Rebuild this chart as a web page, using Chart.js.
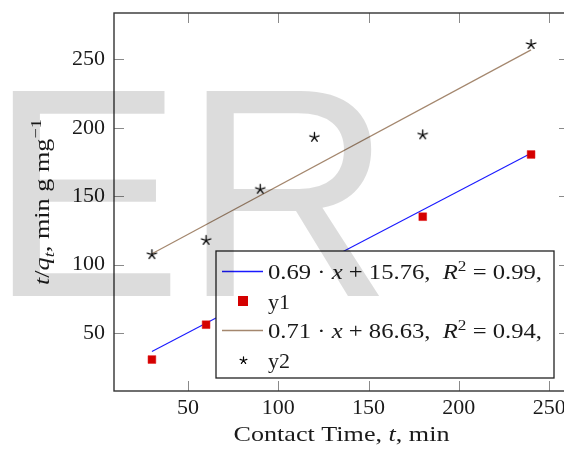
<!DOCTYPE html>
<html>
<head>
<meta charset="utf-8">
<script src="https://cdn.jsdelivr.net/npm/chart.js@4.4.1/dist/chart.umd.min.js"></script>
<style>
  html, body { margin: 0; padding: 0; overflow: hidden; background: #fff; }
  #wrap { width: 580px; height: 449px; }
</style>
</head>
<body>
<div id="wrap"><canvas id="chart" width="580" height="449"></canvas></div>
<script>
// data
const contactTime = [30, 60, 90, 120, 180, 240];
const y1Values = [30.5, 56, 85, 105, 135, 180.5];
const y2Values = [107.3, 117.7, 155.1, 193.1, 194.9, 261];
const fit1 = { slope: 0.69, intercept: 15.76 };
const fit2 = { slope: 0.71, intercept: 86.63 };
const fitRange = [30, 240];
const xTicks = [50, 100, 150, 200, 250];
const yTicks = [50, 100, 150, 200, 250];
const xLimits = [9, 261];
const yLimits = [7.5, 284];

const SERIF = '"Liberation Serif", "DejaVu Serif", serif';
const FS = 22;
const BLUE = '#1a1aff';
const RED = '#d40000';
const BROWN = '#a4876e';

function points(xs, ys) {
  return xs.map((x, i) => ({ x: x, y: ys[i] }));
}
function fitLine(f) {
  return fitRange.map(x => ({ x: x, y: f.slope * x + f.intercept }));
}

// pgfplots-like 5 ray star
function makeStar(r, lw) {
  const c = document.createElement('canvas');
  const s = Math.ceil(r * 2 + 3);
  c.width = s; c.height = s;
  const g = c.getContext('2d');
  g.strokeStyle = '#000';
  g.lineWidth = lw;
  g.lineCap = 'round';
  g.beginPath();
  for (let k = 0; k < 5; k++) {
    const a = -Math.PI / 2 + k * 2 * Math.PI / 5;
    g.moveTo(s / 2, s / 2);
    g.lineTo(s / 2 + r * Math.cos(a), s / 2 + r * Math.sin(a));
  }
  g.stroke();
  return c;
}
const starBig = makeStar(4.8, 1.3);
const starSmall = makeStar(3.6, 1.2);

function segWidth(ctx, segs, size) {
  let w = 0;
  segs.forEach(s => {
    const fs = s.sup || s.sub ? size * 0.7 : size;
    ctx.font = (s.i ? 'italic ' : '') + fs + 'px ' + SERIF;
    w += ctx.measureText(s.t).width;
  });
  return w;
}
// draws a run of segments, stretched horizontally to a given width if asked
function richText(ctx, x, y, segs, size, width) {
  const natural = segWidth(ctx, segs, size);
  const sx = width ? width / natural : 1;
  ctx.save();
  ctx.translate(x, y);
  ctx.scale(sx, 1);
  let cx = 0;
  segs.forEach(s => {
    const fs = s.sup || s.sub ? size * 0.7 : size;
    ctx.font = (s.i ? 'italic ' : '') + fs + 'px ' + SERIF;
    const dy = s.sup ? -size * 0.38 : (s.sub ? size * 0.22 : 0);
    ctx.fillText(s.t, cx, dy);
    cx += ctx.measureText(s.t).width;
  });
  ctx.restore();
  return natural * sx;
}

const legendRows = [
  { kind: 'line', color: BLUE, width: 274, text: [{ t: '0.69 · ' }, { t: 'x', i: 1 }, { t: ' + 15.76,  ' }, { t: 'R', i: 1 }, { t: '2', sup: 1 }, { t: ' = 0.99,' }] },
  { kind: 'rect', color: RED, width: 22, text: [{ t: 'y1' }] },
  { kind: 'line', color: BROWN, width: 274, text: [{ t: '0.71 · ' }, { t: 'x', i: 1 }, { t: ' + 86.63,  ' }, { t: 'R', i: 1 }, { t: '2', sup: 1 }, { t: ' = 0.94,' }] },
  { kind: 'star', width: 22, text: [{ t: 'y2' }] }
];

const framePlugin = {
  id: 'frame',
  afterDraw(chart) {
    const ctx = chart.ctx;
    const a = chart.chartArea;
    const xs = chart.scales.x, ys = chart.scales.y;
    ctx.save();
    // inward ticks on all four sides
    ctx.strokeStyle = '#8a8a8a';
    ctx.lineWidth = 1;
    ctx.beginPath();
    xTicks.forEach(v => {
      const p = Math.round(xs.getPixelForValue(v)) + 0.5;
      ctx.moveTo(p, a.bottom); ctx.lineTo(p, a.bottom - 10);
      ctx.moveTo(p, a.top); ctx.lineTo(p, a.top + 10);
    });
    yTicks.forEach(v => {
      const p = Math.round(ys.getPixelForValue(v)) + 0.5;
      ctx.moveTo(a.left, p); ctx.lineTo(a.left + 10, p);
      ctx.moveTo(a.right, p); ctx.lineTo(a.right - 10, p);
    });
    ctx.stroke();
    ctx.strokeStyle = '#333';
    ctx.lineWidth = 1.4;
    ctx.strokeRect(a.left, a.top, a.right - a.left, a.bottom - a.top);

    // axis titles
    ctx.fillStyle = '#1a1a1a';
    ctx.textBaseline = 'alphabetic';
    const xt = [{ t: 'Contact Time, ' }, { t: 't', i: 1 }, { t: ', min' }];
    richText(ctx, (a.left + a.right) / 2 - 108, 441, xt, FS, 216);

    const yt = [{ t: 't', i: 1 }, { t: '/' }, { t: 'q', i: 1 }, { t: 't', i: 1, sub: 1 }, { t: ', min g mg' }, { t: '−1', sup: 1 }];
    ctx.save();
    ctx.translate(49, 202);
    ctx.rotate(-Math.PI / 2);
    richText(ctx, -83, 0, yt, FS, 166);
    ctx.restore();

    // legend box
    const L = { x: 216, y: 251, w: 338, h: 127 };
    ctx.fillStyle = '#fff';
    ctx.fillRect(L.x, L.y, L.w, L.h);
    ctx.strokeStyle = '#222';
    ctx.lineWidth = 1.3;
    ctx.strokeRect(L.x, L.y, L.w, L.h);
    legendRows.forEach((r, i) => {
      const cy = Math.round(271 + i * 29.5) + 0.5;
      if (r.kind === 'line') {
        ctx.strokeStyle = r.color;
        ctx.lineWidth = 1.3;
        ctx.beginPath();
        ctx.moveTo(222, cy); ctx.lineTo(263, cy);
        ctx.stroke();
      } else if (r.kind === 'rect') {
        ctx.fillStyle = r.color;
        ctx.fillRect(238, cy - 5.5, 10, 10);
      } else {
        ctx.drawImage(starSmall, Math.round(243 - starSmall.width / 2), Math.round(cy - starSmall.height / 2));
      }
      ctx.fillStyle = '#1a1a1a';
      richText(ctx, 268, cy + 7, r.text, 21, r.width);
    });

    // watermark overlay
    ctx.fillStyle = 'rgba(0,0,0,0.137)';
    ctx.font = '298px "Liberation Sans", Arial, sans-serif';
    ctx.textBaseline = 'alphabetic';
    ctx.translate(-11, 296);
    ctx.scale(0.975, 1);
    ctx.fillText('ER', 0, 0);
    ctx.restore();
  }
};

new Chart(document.getElementById('chart').getContext('2d'), {
  type: 'scatter',
  data: {
    datasets: [
      {
        label: 'fit1',
        data: fitLine(fit1),
        showLine: true,
        borderColor: BLUE,
        borderWidth: 1.1,
        pointRadius: 0,
        order: 2
      },
      {
        label: 'y1',
        data: points(contactTime, y1Values),
        pointStyle: 'rect',
        pointRadius: 5.5,
        backgroundColor: RED,
        borderColor: '#e01010',
        borderWidth: 0.5,
        order: 1
      },
      {
        label: 'fit2',
        data: fitLine(fit2),
        showLine: true,
        borderColor: BROWN,
        borderWidth: 1.2,
        pointRadius: 0,
        order: 2
      },
      {
        label: 'y2',
        data: points(contactTime, y2Values),
        pointStyle: starBig,
        pointRadius: 5,
        order: 1
      }
    ]
  },
  options: {
    responsive: false,
    animation: false,
    layout: { padding: { top: 13, right: 11, left: 0, bottom: 0 } },
    plugins: { legend: { display: false }, tooltip: { enabled: false } },
    scales: {
      x: {
        type: 'linear',
        min: xLimits[0], max: xLimits[1],
        grid: { display: false, drawTicks: false, tickLength: 0 },
        border: { display: false },
        afterBuildTicks: s => { s.ticks = xTicks.map(v => ({ value: v })); },
        afterFit: s => { s.height = 58; s.paddingLeft = 0; s.paddingRight = 0; },
        ticks: { color: '#1a1a1a', padding: 4, maxRotation: 0, font: { family: SERIF, size: FS } }
      },
      y: {
        type: 'linear',
        min: yLimits[0], max: yLimits[1],
        grid: { display: false, drawTicks: false, tickLength: 0 },
        border: { display: false },
        afterBuildTicks: s => { s.ticks = yTicks.map(v => ({ value: v })); },
        afterFit: s => { s.width = 114; s.paddingTop = 0; s.paddingBottom = 0; },
        ticks: { color: '#1a1a1a', padding: 9, font: { family: SERIF, size: FS } }
      }
    }
  },
  plugins: [framePlugin]
});
</script>
</body>
</html>
